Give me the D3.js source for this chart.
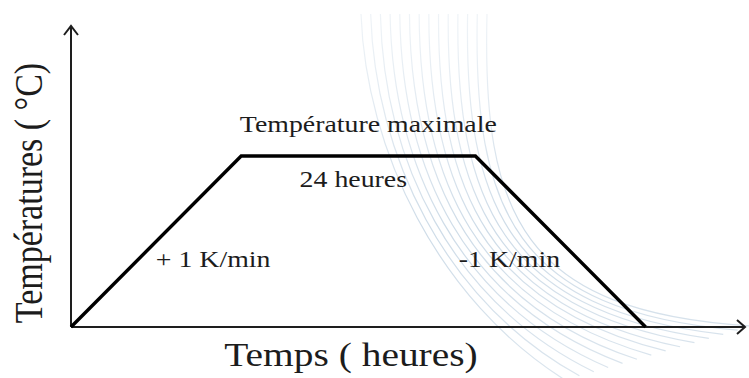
<!DOCTYPE html>
<html>
<head>
<meta charset="utf-8">
<script src="https://cdn.jsdelivr.net/npm/d3@7/dist/d3.min.js"></script>
<style>
  html, body { margin: 0; padding: 0; background: #fff; }
  svg { display: block; }
  text { font-family: "Liberation Serif", "Times New Roman", serif; fill: #1c1c1c; }
</style>
</head>
<body>
<svg id="chart" width="749" height="378"></svg>
<script>
// Thermal cycle: ramp up at +1 K/min, 24 h hold at max temperature, ramp down at -1 K/min
const phaseTimes = [0, 101, 240, 341];     // time (arbitrary units along the axis)
const phaseTemps = [0, 100, 100, 0];       // temperature (% of the maximum)
const axisTitles = ["Temps ( heures)", "Températures ( °C)"];
const phaseLabels = ["+ 1 K/min", "Température maximale", "24 heures", "-1 K/min"];

const W = 749, H = 378;
const svg = d3.select("#chart");
const stretch = 1.16;   // slightly widened serif lettering

const x = d3.scaleLinear().domain([0, 400]).range([71, 745]);
const y = d3.scaleLinear().domain([0, 176]).range([327, 26]);

// faint decorative fan of curves in the background, fading towards the top
const defs = svg.append("defs");
const grad = defs.append("linearGradient").attr("id", "fanFade")
  .attr("gradientUnits", "userSpaceOnUse")
  .attr("x1", 0).attr("y1", 0).attr("x2", 0).attr("y2", H);
grad.append("stop").attr("offset", 0).attr("stop-color", "#c4d4e2").attr("stop-opacity", 0.25);
grad.append("stop").attr("offset", 0.6).attr("stop-color", "#adc4d8").attr("stop-opacity", 0.6);
grad.append("stop").attr("offset", 1).attr("stop-color", "#b7cbdc").attr("stop-opacity", 0.5);

const deco = svg.append("g").attr("fill", "none");
const nCurves = 14;
const lerp = (a, b, t) => a + (b - a) * t;
for (let i = 0; i < nCurves; i++) {
  const t = i / (nCurves - 1);
  const p = d3.path();
  p.moveTo(lerp(361, 487, t), 14);
  p.bezierCurveTo(lerp(366, 482, t), lerp(150, 215, t),
                  lerp(438, 522, t), lerp(300, 312, t),
                  lerp(565, 752, t), lerp(380, 326, t));
  deco.append("path").attr("d", p.toString())
    .attr("stroke", "url(#fanFade)").attr("stroke-width", 1.2);
}

// axes with open arrowheads
const axes = svg.append("g").attr("stroke", "#1e1e1e").attr("stroke-width", 2).attr("fill", "none");
const x0 = x(0), y0 = y(0), xEnd = x(400), yEnd = y(176);
axes.append("line").attr("x1", x0).attr("y1", y0).attr("x2", xEnd).attr("y2", y0);
axes.append("line").attr("x1", x0).attr("y1", y0).attr("x2", x0).attr("y2", yEnd);
axes.append("path").attr("d", `M${xEnd - 8},${y0 - 7}L${xEnd},${y0}L${xEnd - 8},${y0 + 7}`);
axes.append("path").attr("d", `M${x0 - 7},${yEnd + 9}L${x0},${yEnd}L${x0 + 7},${yEnd + 9}`);

// temperature profile
const profile = phaseTimes.map((t, i) => [t, phaseTemps[i]]);
svg.append("path").datum(profile)
  .attr("d", d3.line().x(d => x(d[0])).y(d => y(d[1])))
  .attr("fill", "none").attr("stroke", "#000").attr("stroke-width", 3.4)
  .attr("stroke-linejoin", "miter");

function label(txt, cx, baseline, size, rotate) {
  svg.append("text")
    .attr("transform", `translate(${cx},${baseline}) scale(${stretch},1)` + (rotate ? " rotate(-90)" : ""))
    .attr("text-anchor", "middle")
    .attr("font-size", size)
    .text(txt);
}

const px = phaseTimes.map(x), py = phaseTemps.map(y);
// axis titles
label(axisTitles[0], 351, 366, 34);
label(axisTitles[1], 42, 193, 34, true);
// phase annotations
label(phaseLabels[0], (px[0] + px[1]) / 2 + 57, 267, 24);
label(phaseLabels[1], (px[1] + px[2]) / 2 + 10, py[1] - 24, 24);
label(phaseLabels[2], (px[1] + px[2]) / 2 - 5, py[1] + 31, 24);
label(phaseLabels[3], (px[2] + px[3]) / 2 - 51, 267, 24);
</script>
</body>
</html>
